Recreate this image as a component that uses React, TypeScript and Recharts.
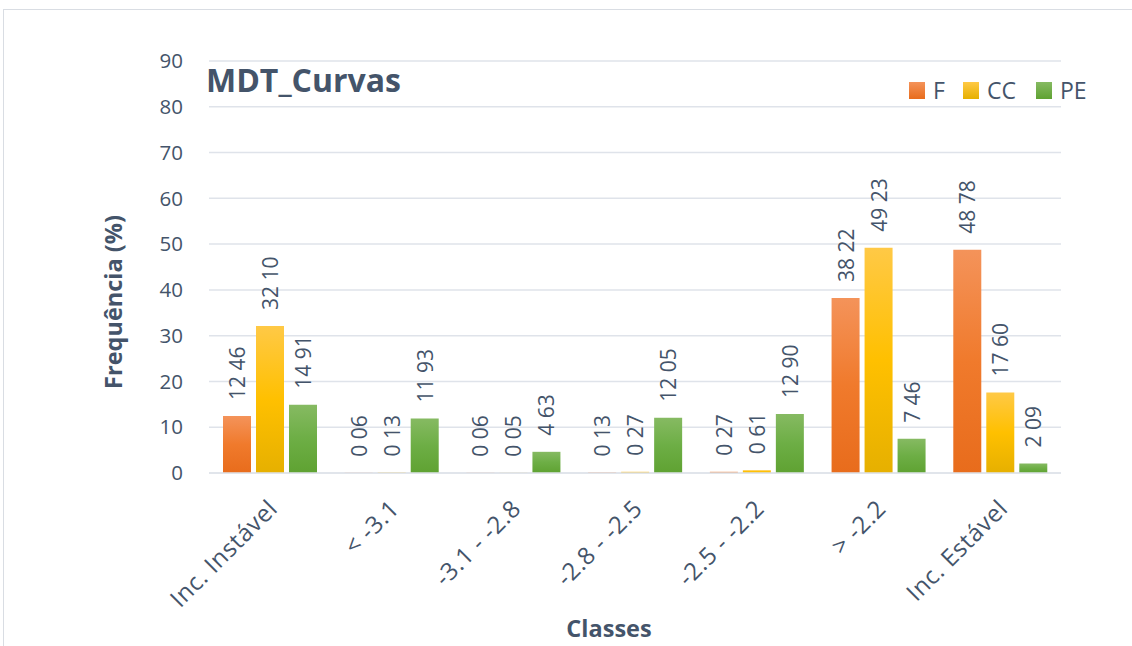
import React from 'react';
import { BarChart, Bar, XAxis, YAxis, CartesianGrid, LabelList } from 'recharts';

const classes = ['Inc. Instável', '< -3.1', '-3.1 - -2.8', '-2.8 - -2.5', '-2.5 - -2.2', '> -2.2', 'Inc. Estável'];
const fValues = [12.46, 0.06, 0.06, 0.13, 0.27, 38.22, 48.78];
const ccValues = [32.1, 0.13, 0.05, 0.27, 0.61, 49.23, 17.6];
const peValues = [14.91, 11.93, 4.63, 12.05, 12.9, 7.46, 2.09];
const yTicks = [0, 10, 20, 30, 40, 50, 60, 70, 80, 90];

const seriesNames = ['F', 'CC', 'PE'];
const gradTop = ['#f4935a', '#ffc946', '#86ba62'];
const gradMid = ['#f07a2c', '#ffc000', '#6dae45'];
const gradBottom = ['#e86c1c', '#e6b000', '#5fa232'];
const gradIds = ['gF', 'gCC', 'gPE'];

const data = classes.map((c, i) => ({ name: c, F: fValues[i], CC: ccValues[i], PE: peValues[i] }));

const TEXT = '#44546a';
const FONT = '"Open Sans", "DejaVu Sans", sans-serif';

const fmt = (v: number) => v.toFixed(2).replace('.', ' ');

const ValueLabel = (props: any) => {
  const { x, y, width, value } = props;
  const cx = x + width / 2;
  const by = y - 16;
  return (
    <text
      x={0}
      y={0}
      transform={`translate(${cx},${by}) rotate(-90)`}
      textAnchor="start"
      dominantBaseline="central"
      fill={TEXT}
      fontSize={21}
      fontFamily={FONT}
    >
      {fmt(value)}
    </text>
  );
};

const XTick = (props: any) => {
  const { x, y, payload } = props;
  return (
    <text
      x={0}
      y={0}
      transform={`translate(${x + 9},${y + 29}) rotate(-45)`}
      textAnchor="end"
      fill={TEXT}
      fontSize={24}
      letterSpacing={0.6}
      fontFamily={FONT}
    >
      {payload.value}
    </text>
  );
};

const legendX = [909, 963, 1036];

const App: React.FC = () => {
  return (
    <div style={{ position: 'absolute', left: 0, top: 0, width: 1132, height: 646, overflow: 'hidden', background: '#fff' }}>
      <div
        style={{
          position: 'absolute',
          left: 3,
          top: 9,
          width: 1140,
          height: 660,
          border: '1.5px solid #d9dde3',
        }}
      />
      <BarChart
        width={1132}
        height={646}
        data={data}
        margin={{ top: 61, right: 71, bottom: 53, left: 149 }}
        barSize={28}
        barGap={5}
        style={{ position: 'absolute', left: 0, top: 0 }}
      >
        <defs>
          {gradIds.map((id, i) => (
            <linearGradient key={id} id={id} x1="0" y1="0" x2="0" y2="1">
              <stop offset="0%" stopColor={gradTop[i]} />
              <stop offset="50%" stopColor={gradMid[i]} />
              <stop offset="100%" stopColor={gradBottom[i]} />
            </linearGradient>
          ))}
        </defs>
        <CartesianGrid vertical={false} stroke="#dfe3ea" strokeWidth={1.5} />
        <XAxis
          dataKey="name"
          height={120}
          axisLine={{ stroke: '#dfe3ea', strokeWidth: 1.5 }}
          tickLine={false}
          tick={<XTick />}
          interval={0}
        />
        <YAxis
          width={60}
          domain={[0, 90]}
          ticks={yTicks}
          axisLine={false}
          tickLine={false}
          tick={{ fill: TEXT, fontSize: 20.5, fontFamily: FONT }}
          tickMargin={20}
        />
        {seriesNames.map((n, i) => (
          <Bar key={n} dataKey={n} fill={`url(#${gradIds[i]})`} isAnimationActive={false}>
            <LabelList dataKey={n} content={<ValueLabel />} />
          </Bar>
        ))}
      </BarChart>
      <div
        style={{
          position: 'absolute',
          left: 206,
          top: 58,
          fontFamily: FONT,
          fontWeight: 700,
          fontSize: 32,
          color: TEXT,
          whiteSpace: 'nowrap',
        }}
      >
        MDT_Curvas
      </div>
      {seriesNames.map((n, i) => (
        <div
          key={n}
          style={{
            position: 'absolute',
            left: legendX[i],
            top: 74,
            height: 32,
            display: 'flex',
            alignItems: 'center',
            fontFamily: FONT,
            fontSize: 23,
            color: TEXT,
          }}
        >
          <div
            style={{
              width: 16,
              height: 17,
              marginRight: 8,
              background: `linear-gradient(${gradTop[i]}, ${gradBottom[i]})`,
            }}
          />
          <span>{n}</span>
        </div>
      ))}
      <div
        style={{
          position: 'absolute',
          left: 113,
          top: 302,
          transform: 'translate(-50%, -50%) rotate(-90deg)',
          fontFamily: FONT,
          fontWeight: 700,
          fontSize: 23.5,
          color: TEXT,
          whiteSpace: 'nowrap',
        }}
      >
        Frequência (%)
      </div>
      <div
        style={{
          position: 'absolute',
          left: 609,
          top: 628,
          transform: 'translate(-50%, -50%)',
          fontFamily: FONT,
          fontWeight: 700,
          fontSize: 23.5,
          color: TEXT,
          whiteSpace: 'nowrap',
        }}
      >
        Classes
      </div>
    </div>
  );
};

export default App;
